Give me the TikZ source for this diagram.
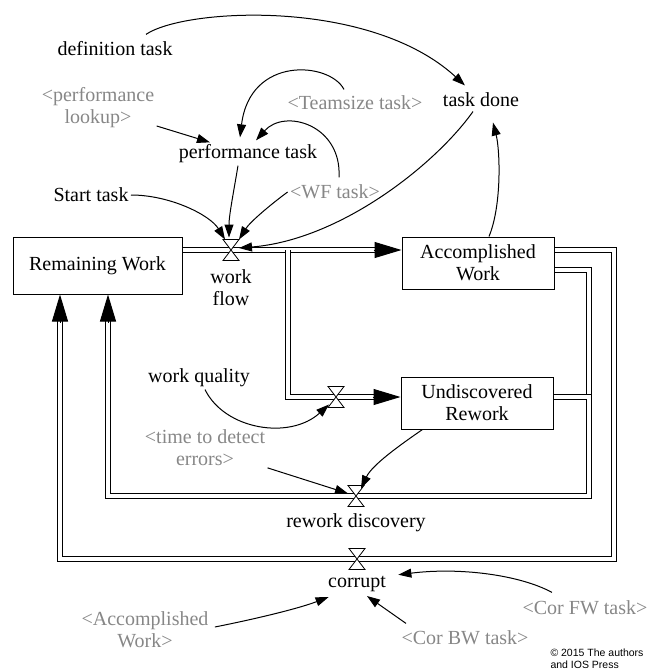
\documentclass[tikz,border=0pt]{standalone}
\usepackage{fontspec}
\setmainfont{Liberation Serif}
\newfontfamily\notefont{Liberation Sans}
\usetikzlibrary{arrows.meta,positioning,calc}

\definecolor{ghostgray}{RGB}{135,135,135}

\begin{document}
\begin{tikzpicture}[x=1pt, y=-1pt, line width=1pt,
    font=\fontsize{20}{22}\selectfont]

    % Styles for the stock and flow pieces
    \tikzset{
        var/.style={inner sep=2pt, align=center},
        ghost/.style={var, text=ghostgray},
        stock/.style={draw, inner sep=2pt, align=center,
            minimum width=152pt, minimum height=52pt},
        valve/.style={inner sep=0pt, minimum width=15pt, minimum height=20pt},
        pipe/.style={double, double distance=4.5pt, line width=1pt},
        flowhead/.style={-{Triangle[length=27pt,width=16pt]}},
        link/.style={-{Triangle[length=13pt,width=9pt]}}
    }

    \useasboundingbox (0,0) rectangle (648,670);

    % Stocks
    \node[stock, minimum width=169pt, minimum height=57pt] (rw) at (97.5,265.5)
    {Remaining Work};
    \node[stock] (aw) at (478,263) {Accomplished\\Work};
    \node[stock] (ur) at (477,403) {Undiscovered\\Rework};

    % Valves and their names
    \node[valve] (wf) at (231,250) {};
    \node[valve] (vq) at (336,397) {};
    \node[valve] (rd) at (356,496) {};
    \node[valve] (co) at (357,559) {};
    \node[var, below=7pt of wf] (wfl) {work\\flow};
    \node[var, below=5pt of rd] (rdl) {rework discovery};
    \node[var, below=4pt of co] (cot) {corrupt};

    % Auxiliaries
    \node[var] (dt) at (115,49) {definition task};
    \node[var] (td) at (481,100) {task done};
    \node[ghost] (pl) at (98,108) {<performance\\lookup>};
    \node[ghost] (ts) at (355,103) {<Teamsize task>};
    \node[var] (pt) at (248,154) {performance task};
    \node[var] (st) at (91,195) {Start task};
    \node[ghost] (wft) at (335,192) {<WF task>};
    \node[var] (wq) at (199,378) {work quality};
    \node[ghost] (te) at (205,448) {<time to detect\\errors>};
    \node[ghost] (aw2) at (145,630) {<Accomplished\\Work>};
    \node[ghost] (cbw) at (465,638) {<Cor BW task>};
    \node[ghost] (cfw) at (585,608) {<Cor FW task>};

    \node[anchor=north west, align=left, inner sep=0pt,
        font=\notefont\fontsize{10.5}{12}\selectfont] (note) at (550,648)
    {© 2015 The authors\\and IOS Press};

    % Pipe corners
    \coordinate (br) at (288,250);
    \coordinate (e1) at (589,496);
    \coordinate (e2) at (614,559);
    \coordinate (w1) at (108,496);
    \coordinate (w2) at (60,559);

    % Pipes
    \draw[pipe] (rw.east |- wf) -- ($(aw.west |- wf)+(-26,0)$);
    \draw[pipe] (br) |- ($(ur.west |- vq)+(-26,0)$);
    \draw[pipe] ($(aw.east)+(0,7)$) -| (e1);
    \draw[pipe] (ur.east |- vq) -| (e1) -- (w1) -- ($(w1 |- rw.south)+(0,26)$);
    \draw[pipe] (aw.east |- wf) -| (e2) -- (w2) -- ($(w2 |- rw.south)+(0,26)$);

    \draw[flowhead] ($(aw.west |- wf)+(-28,0)$) -- (aw.west |- wf);
    \draw[flowhead] ($(ur.west |- vq)+(-28,0)$) -- (ur.west |- vq);
    \draw[flowhead] ($(w1 |- rw.south)+(0,28)$) -- (w1 |- rw.south);
    \draw[flowhead] ($(w2 |- rw.south)+(0,28)$) -- (w2 |- rw.south);

    \foreach \v in {wf,vq,rd,co}
    \draw[fill=white, line width=0.8pt] (\v.north west) -- (\v.north east)
        -- (\v.south west) -- (\v.south east) -- cycle;

    % Links
    \draw[link] ($(dt.north)+(31,-5)$) .. controls (185,8) and (370,-2)
        .. ($(td.north)+(-16,-5)$);
    \draw[link] (pl) -- (pt);
    \draw[link] ($(ts.north)+(-11,-4)$) .. controls (330,62) and (250,55)
        .. ($(pt.north)+(-8,-5)$);
    \draw[link] ($(wft.north)+(4,-5)$) .. controls (342,125) and (285,108)
        .. ($(pt.north)+(8,-2)$);
    \draw[link] ($(pt.south)+(-10,0)$) .. controls (234,190) and (229,215)
        .. ($(wf.north)+(-2,-2)$);
    \draw[link] (st.east) .. controls (170,195) and (210,215)
        .. ($(wf.north)+(-6,0)$);
    \draw[link] (wft.west) .. controls (270,205) and (250,222) .. (wf.north east);
    \draw[link] ($(td.south)+(-8,2)$) .. controls (435,165) and (340,240)
        .. ($(wf.east)+(0,-2)$);
    \draw[link] ($(aw.north)+(11,0)$) .. controls (502,205) and (500,150)
        .. ($(td.south)+(12,13)$);
    \draw[link] ($(wq.south)+(6,0)$) .. controls (225,430) and (290,440)
        .. ($(vq.south west)+(1,-3)$);
    \draw[link] (te) -- (rd);
    \draw[link] ($(ur.south west)+(22,0)$) .. controls (400,445) and (372,465)
        .. ($(rd.north)+(5,3)$);
    \draw[link] ($(aw2.east)+(4,-3)$) .. controls (260,618) and (300,608)
        .. ($(cot.south west)+(3,3)$);
    \draw[link] ($(cbw.north west)+(7,-5)$) -- ($(cot.south)+(10,2)$);
    \draw[link] ($(cfw.north)+(-33,-6)$) .. controls (520,575) and (460,567)
        .. ($(cot.east)+(10,-9)$);

\end{tikzpicture}
\end{document}
